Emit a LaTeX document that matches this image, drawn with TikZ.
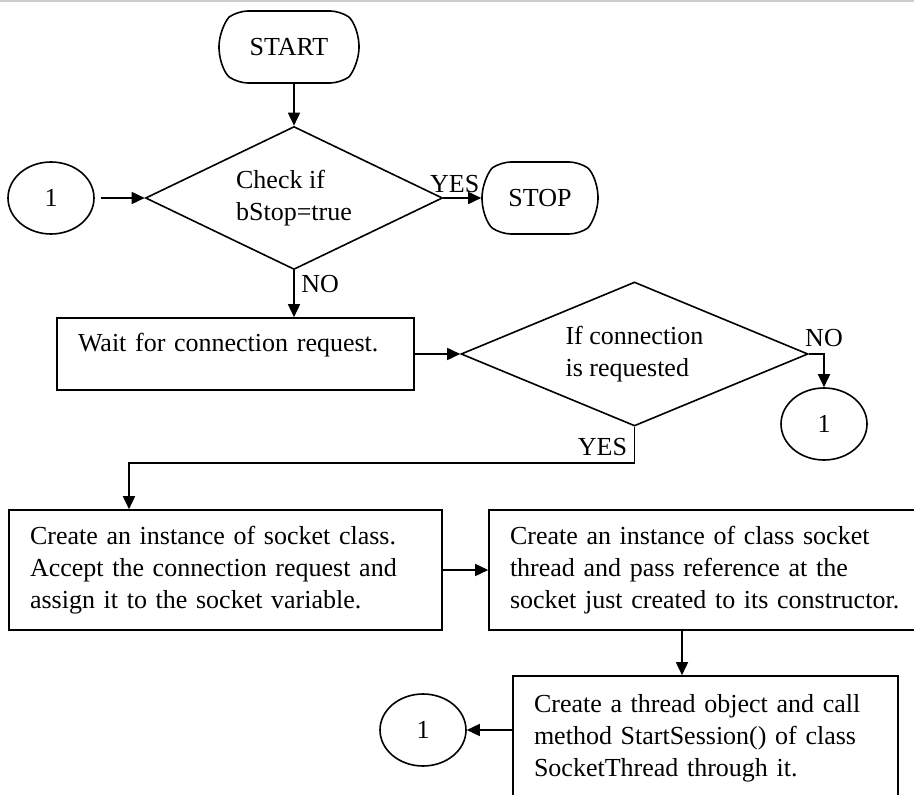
\documentclass[tikz,border=0pt]{standalone}
\usepackage{fontspec}
\setmainfont{Liberation Serif}
\usetikzlibrary{arrows.meta, shapes.geometric, shapes.misc}
% off-page connector, always labelled 1
\newcommand{\offpage}[2]{%
  \node[ellipse, draw, minimum width=43pt, minimum height=36pt,
        inner sep=0pt] (#1) at #2 {1};
}

\begin{document}
\begin{tikzpicture}[x=0.5pt, y=-0.5pt,
      >={Triangle[length=6.5pt, width=6pt]},
      line width=0.8pt, font=\fontsize{13}{16}\selectfont,
      term/.style={rounded rectangle, rounded rectangle arc length=110,
        rounded corners=5pt, draw, minimum width=#1, minimum height=36pt,
        inner sep=0pt},
      decide/.style={diamond, draw, shape aspect=2, inner sep=0pt,
        align=left},
      proc/.style={rectangle, draw, align=left, text width=#1,
        inner xsep=10.5pt, inner ysep=0pt}]
    \useasboundingbox (0,0) rectangle (914,795);
    \draw[black!20, line width=1pt] (0,1) -- (914,1);
    % stop test
    \node[term=70pt] (start) at (289,47) {START};
    \node[decide, minimum width=148.5pt, minimum height=71.5pt]
      (chk) at (294,198) {Check if\\bStop=true};
    \node[term=58pt] (stop) at (540,198) {STOP};
    \offpage{back1}{(51,198)}
    % waiting for a client
    \node[proc=157.5pt, minimum height=36pt, text depth=12pt]
      (wait) at (235.5,354) {Wait for connection request.};
    \node[decide, minimum width=173.5pt, minimum height=72pt]
      (req) at (634.5,354) {If connection\\is requested};
    \offpage{back2}{(824,424)}
    % serving the client
    \node[proc=195.5pt, minimum height=60pt] (sock) at (225.5,570)
      {Create an instance of socket class.\\Accept the connection request and\\assign it to the socket variable.};
    \node[proc=195.5pt, minimum height=60pt] (thr) at (705.5,570)
      {Create an instance of class socket\\thread and pass reference at the\\socket just created to its constructor.};
    \node[proc=171.5pt, minimum height=62pt] (run) at (705.5,738)
      {Create a thread object and call\\method StartSession() of class\\SocketThread through it.};
    \offpage{back3}{(423,730)}

    \draw[->] (chk.north |- start.south) -- (chk.north);
    \draw[->, shorten <=3pt] (back1) -- (chk.west);
    \draw[->] (chk.east) -- node[above=-1pt, pos=0.3] {YES} (stop.west);
    \draw[->] (chk.south) -- node[right, pos=0.3] {NO} (chk.south |- wait.north);
    \draw[->] (wait.east) -- (req.west);
    \draw[->] (req.east) -| node[above, pos=0.5] {NO} (back2.north);
    \draw[->] (req.south) -- node[left, pos=0.55] {YES} ++(0,-18pt)
      -| ([xshift=-48.25pt]sock.north);
    \draw[->] (sock.east) -- (thr.west);
    \draw[->] ([xshift=-11.75pt]thr.south) -- ([xshift=-11.75pt]run.north);
    \draw[->] (run.west |- back3.east) -- (back3.east);
\end{tikzpicture}
\end{document}
